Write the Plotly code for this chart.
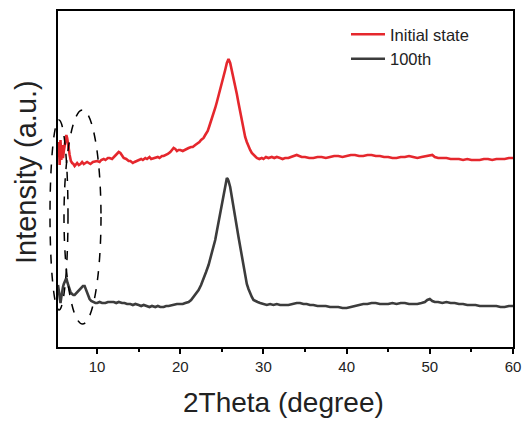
import plotly.graph_objects as go

# 2Theta (degree) and intensity (a.u.)
theta_initial = [5.3, 5.35, 5.4, 5.5, 5.6, 5.7, 5.8, 5.9, 6.0, 6.1, 6.2, 6.3, 6.4, 6.5, 6.6, 6.7, 6.85, 7.0,
                 7.15, 7.3, 7.45, 7.6, 7.8, 8.0, 8.2, 8.4, 8.6, 8.8, 9.0, 9.2, 9.5, 9.8, 10.0, 10.3, 10.5,
                 10.8, 11.0, 11.3, 11.5, 11.8, 12.0, 12.2, 12.4, 12.6, 12.8, 13.0, 13.2, 13.5, 13.8, 14.0,
                 14.3, 14.5, 14.8, 15.0, 15.3, 15.5, 15.8, 16.0, 16.3, 16.5, 16.8, 17.0, 17.3, 17.5, 17.8,
                 18.0, 18.3, 18.5, 18.8, 19.0, 19.2, 19.4, 19.6, 19.8, 20.0, 20.3, 20.5, 20.8, 21.0, 21.3,
                 21.5, 21.8, 22.0, 22.3, 22.5, 22.8, 23.0, 23.3, 23.5, 23.8, 24.0, 24.2, 24.4, 24.6, 24.8,
                 25.0, 25.2, 25.4, 25.6, 25.8, 26.0, 26.2, 26.4, 26.6, 26.8, 27.0, 27.2, 27.4, 27.6, 27.8,
                 28.0, 28.2, 28.4, 28.6, 28.8, 29.0, 29.2, 29.5, 29.8, 30.0, 30.3, 30.6, 31.0, 31.3, 31.6,
                 32.0, 32.3, 32.6, 33.0, 33.3, 33.6, 34.0, 34.3, 34.6, 35.0, 35.5, 36.0, 36.5, 37.0, 37.5,
                 38.0, 38.5, 39.0, 39.5, 40.0, 40.5, 41.0, 41.5, 42.0, 42.5, 43.0, 43.5, 44.0, 44.5, 45.0,
                 45.5, 46.0, 46.5, 47.0, 47.5, 48.0, 48.5, 49.0, 49.5, 50.0, 50.3, 50.6, 51.0, 51.5, 52.0,
                 52.5, 53.0, 53.5, 54.0, 54.5, 55.0, 55.5, 56.0, 56.5, 57.0, 57.5, 58.0, 58.5, 59.0, 59.5,
                 60.0]
intensity_initial = [197, 190, 205, 182, 207, 187, 202, 189, 196, 202, 208, 212, 209, 205, 198, 192, 186, 184,
                     183, 181, 183, 184, 182, 183, 185, 183, 184, 185, 184, 183, 185, 186, 186, 185, 187,
                     188, 187, 189, 189, 188, 190, 192, 193, 195, 194, 191, 189, 188, 186, 186,
                     184, 185, 186, 187, 188, 187, 189, 188, 190, 188, 189, 189, 190, 189, 191,
                     191, 192, 193, 195, 197, 199, 198, 196, 197, 197, 196, 197, 198, 199, 200,
                     200, 202, 203, 205, 207, 209, 212, 216, 221, 228, 234, 239, 245, 251, 257,
                     264, 271, 277, 284, 288, 284, 277, 270, 261, 253, 244, 235, 226, 217, 210,
                     205, 200, 197, 194, 192, 190, 189, 188, 189, 188, 190, 189, 190, 189, 190,
                     189, 188, 189, 189, 190, 191, 192, 191, 190, 190, 189, 189, 190, 190, 189,
                     190, 191, 191, 190, 191, 192, 192, 191, 191, 192, 192, 191, 191, 190, 190,
                     189, 189, 190, 190, 191, 190, 189, 190, 191, 192, 192, 190, 189, 189, 189,
                     188, 188, 188, 187, 188, 187, 187, 187, 188, 188, 187, 188, 188, 188, 189,
                     189]

theta_100th = [5.3, 5.4, 5.5, 5.6, 5.7, 5.8, 5.9, 6.0, 6.15, 6.3, 6.45, 6.6, 6.8, 7.0, 7.15, 7.3, 7.5, 7.7,
               7.9, 8.1, 8.3, 8.5, 8.7, 8.9, 9.1, 9.3, 9.5, 9.8, 10.0, 10.3, 10.6, 11.0, 11.3, 11.6, 12.0,
               12.3, 12.6, 13.0, 13.3, 13.6, 14.0, 14.3, 14.6, 15.0, 15.3, 15.6, 16.0, 16.3, 16.6, 17.0,
               17.3, 17.6, 18.0, 18.3, 18.6, 19.0, 19.3, 19.6, 20.0, 20.3, 20.6, 21.0, 21.3, 21.6, 21.9,
               22.2, 22.5, 22.8, 23.1, 23.4, 23.7, 24.0, 24.2, 24.4, 24.6, 24.8, 25.0, 25.2, 25.4, 25.6,
               25.7, 25.8, 26.0, 26.2, 26.4, 26.6, 26.8, 27.0, 27.2, 27.4, 27.6, 27.8, 28.0, 28.2, 28.4,
               28.6, 28.8, 29.0, 29.3, 29.6, 30.0, 30.4, 30.8, 31.2, 31.6, 32.0, 32.5, 33.0, 33.5, 34.0,
               34.4, 34.8, 35.2, 35.6, 36.0, 36.5, 37.0, 37.5, 38.0, 38.5, 39.0, 39.5, 40.0, 40.5, 41.0,
               41.5, 42.0, 42.5, 43.0, 43.5, 44.0, 44.5, 45.0, 45.5, 46.0, 46.5, 47.0, 47.5, 48.0, 48.5,
               49.0, 49.4, 49.7, 50.0, 50.3, 50.6, 51.0, 51.5, 52.0, 52.5, 53.0, 53.5, 54.0, 54.5, 55.0,
               55.5, 56.0, 56.5, 57.0, 57.5, 58.0, 58.5, 59.0, 59.5, 60.0]
intensity_100th = [62, 55, 48, 44, 50, 57, 60, 63, 66, 69, 64, 59, 55, 53, 52, 52, 54, 55,
                   57, 59, 61, 61, 57, 52, 48, 46, 45, 44, 44, 45, 44, 44, 45, 45, 45,
                   44, 45, 44, 44, 43, 43, 42, 43, 42, 41, 42, 41, 40, 41, 40,
                   41, 40, 40, 41, 41, 42, 42, 43, 43, 43, 44, 45, 47, 50, 53,
                   57, 62, 68, 75, 82, 91, 100, 107, 116, 125, 134, 144, 154, 163, 169,
                   168, 166, 160, 151, 141, 130, 120, 110, 100, 90, 80, 70, 63, 58, 53,
                   50, 47, 46, 45, 44, 43, 42, 43, 42, 43, 42, 42, 42, 43, 44,
                   44, 43, 43, 42, 42, 41, 41, 41, 40, 40, 40, 39, 39, 40, 41,
                   42, 43, 43, 44, 44, 43, 43, 43, 44, 43, 44, 44, 43, 43, 43,
                   44, 45, 47, 48, 46, 45, 45, 44, 45, 44, 44, 43, 43, 42, 42,
                   42, 41, 41, 41, 41, 41, 40, 40, 41, 41]

FONT = "Liberation Sans, Arial, sans-serif"
W, H = 528, 421
L, R, T, B = 58, 15, 11, 74
PW, PH = W - L - R, H - T - B


def px_to_paper_x(px):
    return (px - L) / PW


def px_to_paper_y(py):
    return (H - B - py) / PH


fig = go.Figure()
fig.add_trace(go.Scatter(x=theta_initial, y=intensity_initial, mode="lines", name="Initial state",
                         line=dict(color="#e5272d", width=2.6)))
fig.add_trace(go.Scatter(x=theta_100th, y=intensity_100th, mode="lines", name="100th",
                         line=dict(color="#3c3c3c", width=2.6)))

# dashed ellipses highlighting the low-angle region
for (x0, x1, y0, y1) in [(50, 68, 310, 120), (64, 101, 324, 110)]:
    fig.add_shape(type="circle", xref="paper", yref="paper",
                  x0=px_to_paper_x(x0), x1=px_to_paper_x(x1),
                  y0=px_to_paper_y(y0), y1=px_to_paper_y(y1),
                  line=dict(color="black", width=1.5, dash="dash"))

# axis titles
fig.add_annotation(text="2Theta (degree)", xref="paper", yref="paper",
                   x=px_to_paper_x(283), y=px_to_paper_y(402), xanchor="center", yanchor="middle",
                   showarrow=False, font=dict(size=28, family=FONT, color="#222222"))
fig.add_annotation(text="Intensity (a.u.)", xref="paper", yref="paper",
                   x=px_to_paper_x(26), y=px_to_paper_y(172), xanchor="center", yanchor="middle",
                   textangle=-90, showarrow=False, font=dict(size=29, family=FONT, color="#222222"))

fig.update_layout(
    width=W, height=H,
    margin=dict(l=L, r=R, t=T, b=B, autoexpand=False),
    plot_bgcolor="white", paper_bgcolor="white",
    font=dict(family=FONT, color="#222222", size=15),
    showlegend=True,
    legend=dict(x=px_to_paper_x(346), y=px_to_paper_y(17), xanchor="left", yanchor="top",
                bgcolor="rgba(0,0,0,0)", font=dict(size=16.5, family=FONT, color="#222222"),
                tracegroupgap=0, itemwidth=34),
)
fig.update_xaxes(
    range=[5.3, 60], tickvals=[10, 20, 30, 40, 50, 60],
    ticks="outside", ticklen=5, tickwidth=2, tickcolor="black",
    minor=dict(tickvals=[15, 25, 35, 45, 55], ticks="outside", ticklen=3, tickwidth=2, tickcolor="black"),
    showline=True, linecolor="black", linewidth=2, mirror=True,
    showgrid=False, zeroline=False, automargin=False,
    tickfont=dict(size=15, family=FONT, color="#222222"),
)
fig.update_yaxes(
    range=[0, 336], showticklabels=False, ticks="",
    showline=True, linecolor="black", linewidth=2, mirror=True,
    showgrid=False, zeroline=False, automargin=False,
)

fig.write_html("out.html", config={"displayModeBar": False},
               post_script="document.body.style.margin='0';document.body.style.overflow='hidden';")
